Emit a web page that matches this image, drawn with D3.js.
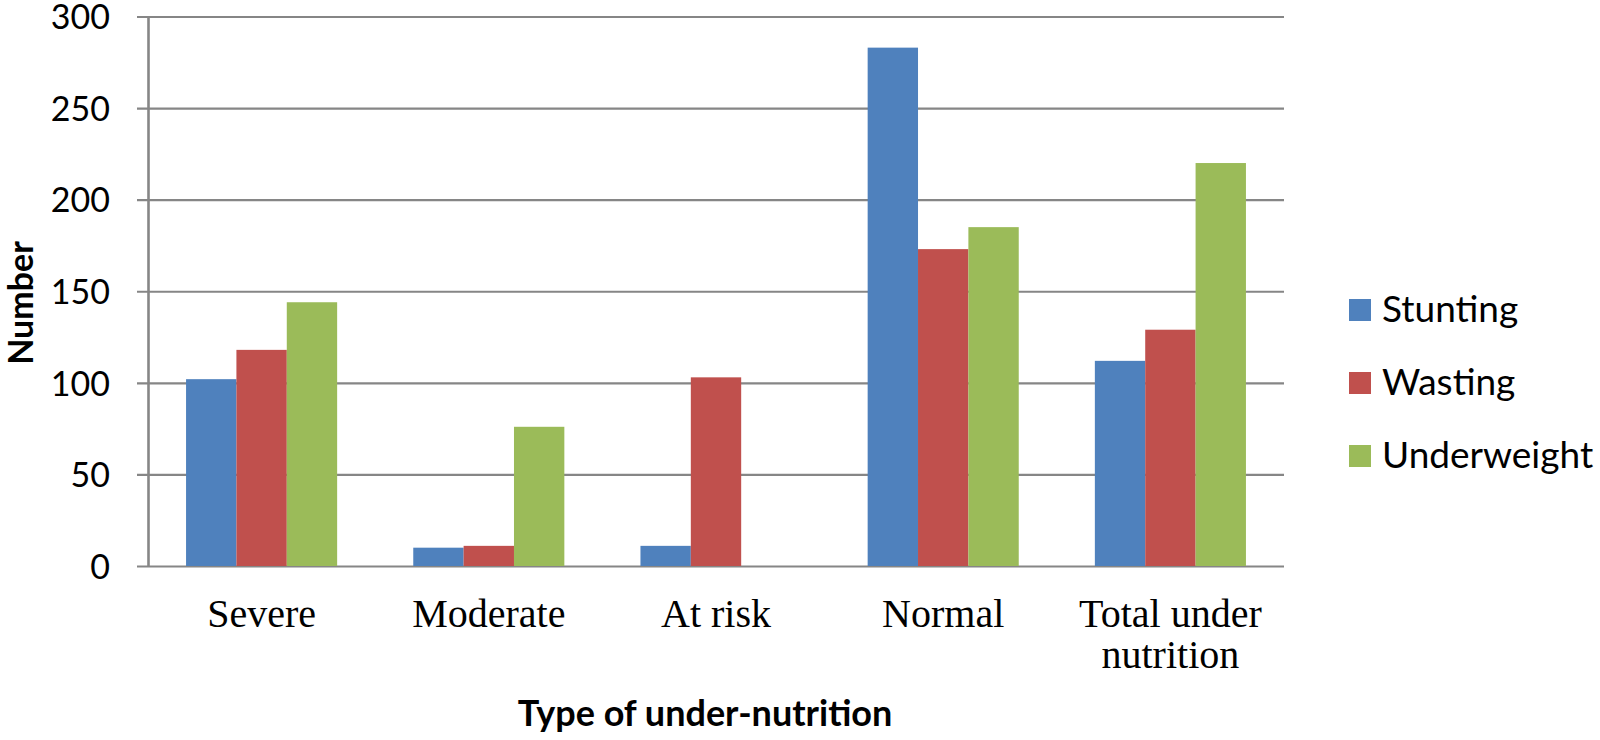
<!DOCTYPE html>
<html>
<head>
<meta charset="utf-8">
<script src="https://cdn.jsdelivr.net/npm/d3@7"></script>
<style>
  body { margin: 0; background: #fff; }
  svg { display: block; }
</style>
</head>
<body>
<div id="chart"></div>
<script>
// data
var categories = ["Severe", "Moderate", "At risk", "Normal", "Total under nutrition"];
var seriesNames = ["Stunting", "Wasting", "Underweight"];
var stunting = [102, 10, 11, 283, 112];
var wasting = [118, 11, 103, 173, 129];
var underweight = [144, 76, 0, 185, 220];
var yTicks = [0, 50, 100, 150, 200, 250, 300];

var colors = ["#4F81BD", "#C0504D", "#9BBB59"];
var gridColor = "#868686";

var width = 1600,
  height = 740;

var plotLeft = 148,
  plotRight = 1284,
  plotTop = 16.5,
  plotBottom = 566;

var svg = d3.select('#chart')
  .append('svg')
  .attr('width', width)
  .attr('height', height)

var values = [stunting, wasting, underweight];

var x = d3.scaleBand()
  .domain(categories)
  .range([plotLeft, plotRight])
  .paddingInner(0.335)
  .paddingOuter(0.1675)

var xSeries = d3.scaleBand()
  .domain(seriesNames)
  .range([0, x.bandwidth()])

var y = d3.scaleLinear()
  .domain([0, 300])
  .range([plotBottom, plotTop])

// y axis with gridlines
var yAxis = svg.append('g')
  .attr('transform', 'translate(' + plotLeft + ',0)')
  .call(d3.axisLeft(y)
    .tickValues(yTicks)
    .tickSizeInner(-(plotRight - plotLeft))
    .tickSizeOuter(0)
    .tickPadding(38))

yAxis.selectAll('.tick line')
  .attr('x1', -11)
  .attr('stroke', gridColor)
  .attr('stroke-width', 2.2)

yAxis.select('.domain')
  .attr('stroke', gridColor)
  .attr('stroke-width', 2.6)

yAxis.selectAll('.tick text')
  .attr('fill', '#000')
  .attr('dy', '0.36em')
  .style('font-family', 'Lato, sans-serif')
  .style('font-size', '34px')

// bars
var groups = svg.append('g')
  .selectAll('g')
  .data(categories)
  .join('g')
  .attr('transform', d => 'translate(' + x(d) + ',0)')

groups.selectAll('rect')
  .data((d, i) => seriesNames.map((s, j) => ({ series: s, value: values[j][i], color: colors[j] })))
  .join('rect')
  .attr('x', d => xSeries(d.series))
  .attr('width', xSeries.bandwidth())
  .attr('y', d => y(d.value))
  .attr('height', d => y(0) - y(d.value))
  .attr('fill', d => d.color)

// x axis labels
var xAxis = svg.append('g')
  .attr('transform', 'translate(0,' + plotBottom + ')')
  .call(d3.axisBottom(x).tickSize(0).tickPadding(0))

xAxis.select('.domain').remove()

xAxis.selectAll('.tick text')
  .attr('fill', '#000')
  .style('font-family', '"Liberation Serif", "Times New Roman", serif')
  .style('font-size', '40px')
  .attr('dy', null)
  .call(wrap, 200)

function wrap(text, w) {
  text.each(function () {
    var t = d3.select(this);
    var words = t.text().split(/\s+/);
    t.text(null);
    var line = [];
    var lineNo = 0;
    var tspan = t.append('tspan').attr('x', 0).attr('y', 61);
    words.forEach(function (word) {
      line.push(word);
      tspan.text(line.join(' '));
      if (tspan.node().getComputedTextLength() > w && line.length > 1) {
        line.pop();
        tspan.text(line.join(' '));
        line = [word];
        lineNo++;
        tspan = t.append('tspan').attr('x', 0).attr('y', 61 + lineNo * 40.5).text(word);
      }
    });
  });
}

// axis titles
svg.append('text')
  .attr('x', 705)
  .attr('y', 726)
  .attr('text-anchor', 'middle')
  .style('font-family', 'Lato, sans-serif')
  .style('font-weight', 'bold')
  .style('font-size', '36px')
  .text('Type of under-nutrition')

svg.append('text')
  .attr('transform', 'translate(33,303) rotate(-90)')
  .attr('text-anchor', 'middle')
  .style('font-family', 'Lato, sans-serif')
  .style('font-weight', 'bold')
  .style('font-size', '34px')
  .text('Number')

// legend
var legend = svg.append('g')
  .selectAll('g')
  .data(seriesNames)
  .join('g')
  .attr('transform', (d, i) => 'translate(1349,' + (299 + i * 73) + ')')

legend.append('rect')
  .attr('width', 22)
  .attr('height', 22)
  .attr('fill', (d, i) => colors[i])

legend.append('text')
  .attr('x', 33)
  .attr('y', 23)
  .style('font-family', 'Lato, sans-serif')
  .style('font-size', '37px')
  .text(d => d)
</script>
</body>
</html>
